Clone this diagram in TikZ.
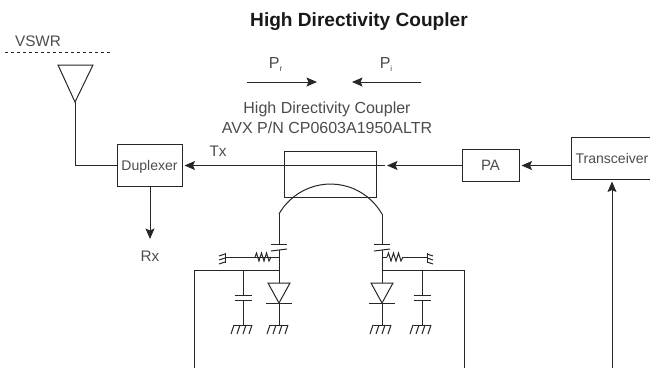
\documentclass[tikz,border=0pt]{standalone}
\usepackage{fontspec}
\setmainfont{Liberation Sans}
\usetikzlibrary{arrows.meta,calc,positioning}

\tikzset{
    gnd/.pic={
        \draw (-9,0) -- (9,0);
        \foreach \i in {-6,0,6,12} {\draw (\i-3,0) -- (\i-6,9);}
    },
    sidegnd/.pic={
        \draw (0,-5) -- (0,5);
        \foreach \i in {-4,0,4} {\draw (0,\i) -- (6,\i+2);}
    },
    cap/.pic={
        \draw (-8.5,0) -- (8.5,0);
        \draw (-8.5,5) -- (8.5,5);
    },
    tiltcap/.pic={
        \draw (-8,0) -- (8,0);
        \draw (-8,7) -- (8,5);
    },
    diode/.pic={
        \draw (-11,0) -- (11,0) -- (0,20) -- cycle;
        \draw (-13,20) -- (13,20);
    },
    res/.pic={
        \draw (0,0) -- (1.5,-4) -- (4,4) -- (6.5,-4) -- (9,4) -- (11.5,-4) -- (14,4) -- (16,0);
    },
}

\begin{document}
\begin{tikzpicture}[x=1pt, y=-1pt, line width=1pt, draw=black!85, text=black!70, >={Stealth[length=10.5pt,width=9pt,inset=2pt]}]

    \tikzstyle{lbl} = [inner sep=0pt, anchor=base, font=\fontsize{16}{18}\selectfont]
    \tikzstyle{blk} = [rectangle, draw=black!85, inner sep=0pt, text height=10pt, text depth=0pt, font=\fontsize{14}{16}\selectfont]
    \tikzstyle{arr} = [->, shorten >=2pt]

    \useasboundingbox (0,0) rectangle (650,368);

    \node (title)  [lbl, font=\fontsize{19.1}{22}\selectfont\bfseries, text=black!90]  at (359,26)  {High Directivity Coupler};
    \node (vswr)   [lbl, font=\fontsize{15.3}{18}\selectfont]  at (38,46)  {VSWR};
    \node (pr)     [lbl]  at (275.5,68.5)  {P\raisebox{-3pt}{\fontsize{8}{8}\selectfont r}};
    \node (pi)     [lbl]  at (386,68.5)    {P\raisebox{-3pt}{\fontsize{8}{8}\selectfont i}};
    \node (name)   [lbl]  at (327,113.3)   {High Directivity Coupler};
    \node (part)   [lbl]  at (327,133.3)   {AVX P/N CP0603A1950ALTR};
    \node (tx)     [lbl, font=\fontsize{15.3}{18}\selectfont]  at (218,156.7)  {Tx};
    \node (rx)     [lbl, font=\fontsize{15.3}{18}\selectfont]  at (150,261.7)  {Rx};

    \node (duplexer)    [blk, minimum width=65pt, minimum height=42pt]  at (149.5,165)  {Duplexer};
    \node (coupler)     [blk, minimum width=92pt, minimum height=46pt]  at (330,174)    {};
    \node (pa)          [blk, minimum width=57pt, minimum height=32pt, font=\fontsize{15}{18}\selectfont]  at (490.5,165.5)  {PA};
    \node (transceiver) [blk, minimum width=82pt, minimum height=42pt]  at (612,158)    {Transceiver};

    % antenna
    \coordinate (ant)    at (75,102);
    \coordinate (antin)  at (75,165.5);
    \draw (58,65) -- (93,65) -- (ant) -- cycle;
    \draw[dashed] (5,52) -- (110,52);
    \path[draw] (ant) -- (antin) -- (antin -| duplexer.west);

    % power arrows
    \coordinate (prs) at (247,82);
    \coordinate (pre) at (317,82);
    \coordinate (pis) at (421,82);
    \coordinate (pie) at (352,82);
    \draw[->] (prs) -- (pre);
    \draw[->] (pis) -- (pie);

    % signal path
    \coordinate (txend) at (385,165.5);
    \coordinate (rxend) at (150,241);
    \draw[arr] (txend) -- (txend -| duplexer.east);
    \draw[arr] (pa.west) -- (txend);
    \draw[arr] (transceiver.west |- pa) -- (pa.east);
    \draw[arr] (rxend |- duplexer.south) -- (rxend);
    \coordinate (fbin) at (612,368);
    \draw[arr] (fbin) -- (fbin |- transceiver.south);

    % detector branches
    \foreach \side/\x/\capx/\rx/\gx/\fx/\flip in {L/279/243/255/225/194/-1, R/382/422/387/427/464/1} {
        \coordinate (top\side)   at (\x,214);
        \coordinate (tap\side)   at (\x,257);
        \coordinate (mid\side)   at (\x,270);
        \coordinate (dio\side)   at (\x,283);
        \coordinate (gnd\side)   at (\x,325);
        \coordinate (cbr\side)   at (\capx,270);
        \coordinate (out\side)   at (\fx,368);
        \draw (top\side) -- (\x,244);
        \draw (\x,250) -- (dio\side);
        \draw (\x,303) -- (gnd\side);
        \draw (mid\side) -- (\fx,270) -- (out\side);
        \draw (cbr\side) -- (\capx,295);
        \draw (\capx,300) -- (\capx,325);
        \draw (tap\side) -- (\rx,257);
        \draw (\rx+16,257) -- (\gx,257);
        \pic at (\x,244)    {tiltcap};
        \pic at (dio\side)  {diode};
        \pic at (gnd\side)  {gnd};
        \pic at (\capx,295) {cap};
        \pic at (\capx,325) {gnd};
        \pic at (\rx,257)   {res};
        \pic[xscale=\flip] at (\gx,258) {sidegnd};
    }
    \draw (topL) arc[start angle=209.6, end angle=330.4, radius=59.2];
\end{tikzpicture}
\end{document}
